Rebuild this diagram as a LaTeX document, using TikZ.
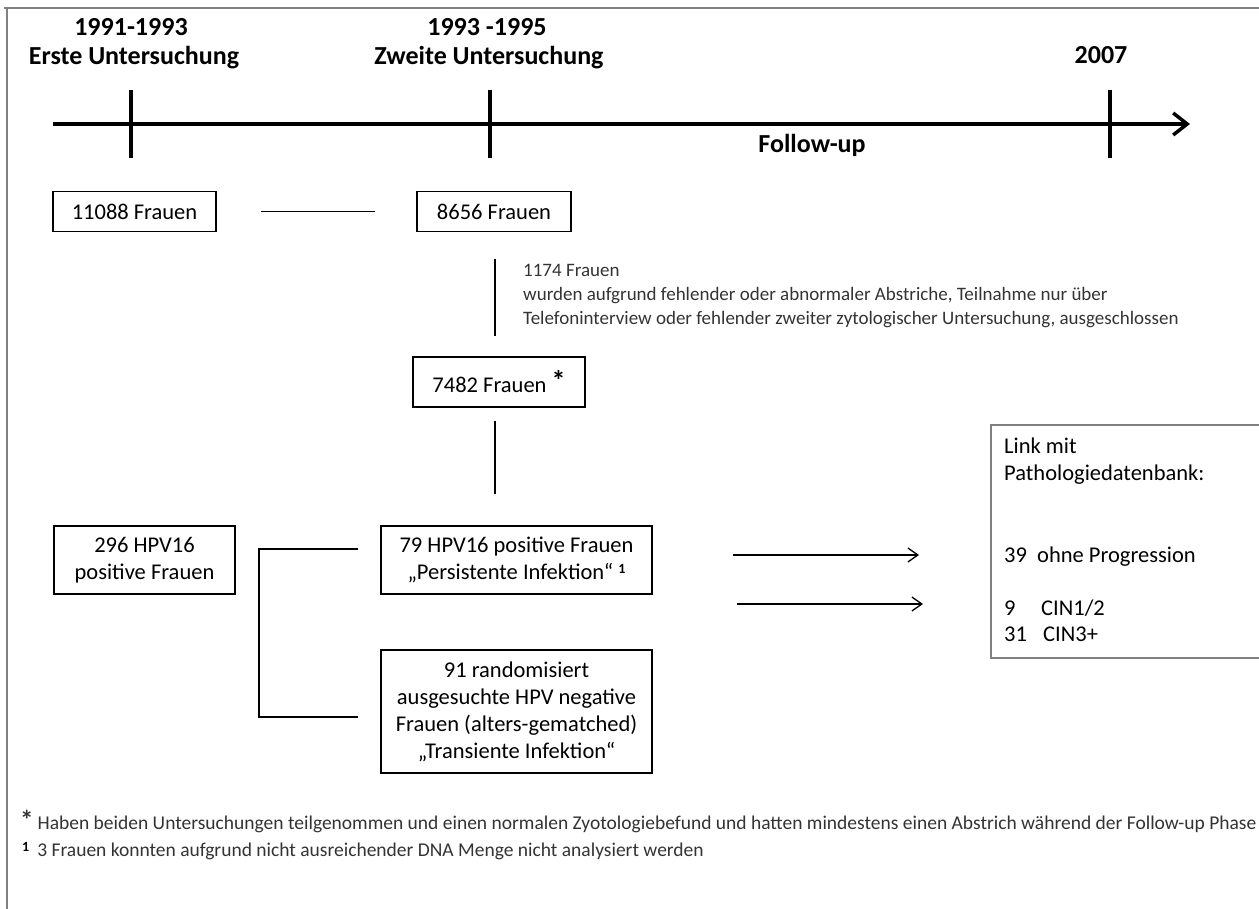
\documentclass[tikz,border=0pt]{standalone}
\usepackage{fontspec}
\setmainfont{Carlito}
\usetikzlibrary{arrows.meta}

\begin{document}
\begin{tikzpicture}[
  x=1pt, y=-1pt,
  box/.style={draw, line width=1.4pt, align=center, inner sep=0pt, font=\fontsize{22.5}{27}\selectfont},
  hdr/.style={font=\fontsize{26}{30}\selectfont\bfseries, anchor=base},
  line/.style={line width=4pt, -{Straight Barb[length=14pt, width=22pt, line width=3.5pt]}},
  tick/.style={line width=3.5pt},
  conn/.style={line width=1.3pt},
  arr/.style={line width=1.3pt, -{Straight Barb[length=10pt, width=14pt]}},
  frame/.style={draw=gray, line width=2pt},
  small/.style={font=\fontsize{19}{24}\selectfont, text=black!80, inner sep=0pt},
  note/.style={font=\fontsize{19.5}{24}\selectfont, text=black!80, inner sep=0pt, anchor=base west},
  linktext/.style={font=\fontsize{22.5}{27}\selectfont, anchor=base west, inner sep=0pt}
]
\useasboundingbox (0,0) rectangle (1259,909);

% outer frame
\draw[frame] (4,8) -- (1259,8);
\draw[frame] (7,7) -- (7,909);

% time line
\draw[line] (53,124) -- (1190,124);
\foreach \x in {131,490,1110}
  \draw[tick] (\x,90) -- (\x,158);

\node[hdr] (yr1) at (131,36) {1991-1993};
\node[hdr] (ex1) at (134,65) {Erste Untersuchung};
\node[hdr] (yr2) at (487,36) {1993 -1995};
\node[hdr] (ex2) at (489,65) {Zweite Untersuchung};
\node[hdr] (yr3) at (1101,64) {2007};
\node[hdr] (fup) at (812,153) {Follow-up};

% Boxes
\node[box, minimum width=163pt, minimum height=40pt] (n11088) at (134.5,211.5) {11088 Frauen};
\node[box, minimum width=154pt, minimum height=40pt] (n8656) at (494,211.5) {8656 Frauen};
\node[box, minimum width=172pt, minimum height=50pt] (n7482) at (499,382)
  {7482 Frauen {\fontsize{28}{28}\selectfont\bfseries\raisebox{2pt}{*}}};
\node[box, minimum width=181pt, minimum height=68pt] (n296) at (144.5,560) {296 HPV16\\positive Frauen};
\node[box, minimum width=271pt, minimum height=68pt] (n79) at (516.5,560)
  {79 HPV16 positive Frauen\\„Persistente Infektion“ \raisebox{6pt}{\fontsize{14}{14}\selectfont\bfseries 1}};
\node[box, minimum width=271pt, minimum height=123pt] (n91) at (516.5,711.5)
  {91 randomisiert\\ausgesuchte HPV negative\\Frauen (alters-gematched)\\„Transiente Infektion“};

% excluded women
\node[small, anchor=north west, align=left] (excl) at (523,264)
  {1174 Frauen\\wurden aufgrund fehlender oder abnormaler Abstriche, Teilnahme nur über\\Telefoninterview oder fehlender zweiter zytologischer Untersuchung, ausgeschlossen};

% link with pathology data base
\node[draw=gray, line width=2pt, anchor=north west, minimum width=320pt, minimum height=233pt] (link) at (990,424) {};
\node[linktext] (lk1) at (1004,453) {Link mit};
\node[linktext] (lk2) at (1004,480) {Pathologiedatenbank:};
\node[linktext] (lk3) at (1004,562) {\makebox[33pt][l]{39}ohne Progression};
\node[linktext] (lk4) at (1004,615) {\makebox[37pt][l]{9}CIN1/2};
\node[linktext] (lk5) at (1004,641) {\makebox[39pt][l]{31}CIN3+};

% Connectors
\draw[conn, shorten <=44pt, shorten >=41pt] (n11088.east) -- (n8656.west);
\draw[conn, shorten <=27pt, shorten >=20pt] ([xshift=1pt]n8656.south) -- ([xshift=1pt]n8656.south |- n7482.north);
\draw[conn, shorten <=13pt, shorten >=31pt] ([xshift=-4pt]n7482.south) -- ([xshift=-4pt]n7482.south |- n79.north);

\coordinate (brtop) at (358,549);
\coordinate (brbot) at (358,717);
\draw[conn] (brtop) -- (259,549) -- (259,717) -- (brbot);

\draw[arr, shorten <=80pt, shorten >=71pt] ([yshift=5pt]n79.east) -- ([yshift=5pt]n79.east -| link.west);
\draw[arr, shorten <=84pt, shorten >=67pt] ([yshift=-44pt]n79.east) -- ([yshift=-44pt]n79.east -| link.west);

% footnotes
\node[note] (fn1) at (20,829)
  {{\fontsize{27}{27}\selectfont\bfseries *}\hspace{4pt}Haben beiden Untersuchungen teilgenommen und einen normalen Zyotologiebefund und hatten mindestens einen Abstrich während der Follow-up Phase};
\node[note] (fn2) at (22,856)
  {\raisebox{5pt}{\fontsize{14}{14}\selectfont\bfseries\color{black} 1}\hspace{8pt}3 Frauen konnten aufgrund nicht ausreichender DNA Menge nicht analysiert werden};
\end{tikzpicture}
\end{document}
